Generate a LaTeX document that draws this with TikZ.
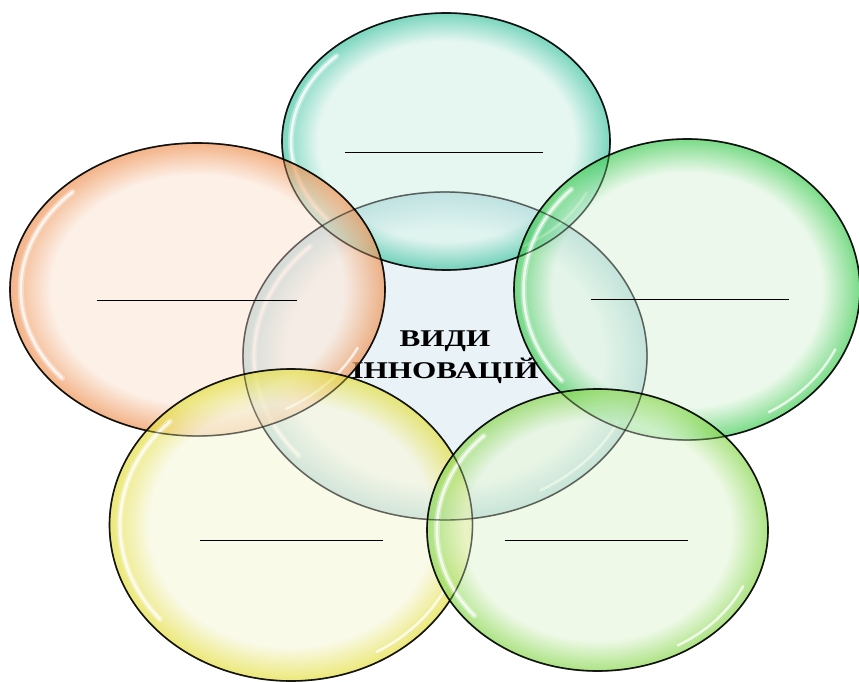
\documentclass[tikz,border=0pt]{standalone}
\usepackage{fontspec}
\setmainfont{Liberation Serif}
\usetikzlibrary{shapes.geometric}
\colorlet{bubin}{white}
\colorlet{bubout}{white}
\pgfdeclareradialshading[bubin,bubout]{bubble}{\pgfpoint{0bp}{0bp}}{color(0bp)=(bubin); color(19.5bp)=(bubin); color(25bp)=(bubout); color(50bp)=(bubout)}
\definecolor{cIn}{HTML}{E0EDF3}\definecolor{cOut}{HTML}{4A9FB5}
\definecolor{tIn}{HTML}{DBF4EC}\definecolor{tOut}{HTML}{3CC3A0}
\definecolor{lIn}{HTML}{FCEADD}\definecolor{lOut}{HTML}{EE9050}
\definecolor{rIn}{HTML}{E2F6E2}\definecolor{rOut}{HTML}{3CCB50}
\definecolor{blIn}{HTML}{F8F8E0}\definecolor{blOut}{HTML}{E3DE3A}
\definecolor{brIn}{HTML}{E8F7DE}\definecolor{brOut}{HTML}{86D64A}
\tikzset{
  bub/.style n args={4}{ellipse, draw=black, line width=1.6pt, inner sep=0pt,
    minimum width=#3, minimum height=#4, fill opacity=0.68, draw opacity=0.85,
    /utils/exec={\colorlet{bubin}{#1}\colorlet{bubout}{#2}}, shade, shading=bubble},
  rim/.style={draw=black, line width=1.4pt, draw opacity=0.45},
  blank/.style={draw=black, line width=1pt},
  hlsoft/.style={draw=white, line width=6pt, opacity=0.35, line cap=round},
  hl/.style={draw=white, line width=2.5pt, opacity=0.75, line cap=round}
}
\newcommand{\bubhl}[3]{%
  \path[hlsoft] (#1.center) ++(140:{0.945*#2} and {0.945*#3}) arc[start angle=140, end angle=225, x radius={0.945*#2}, y radius={0.945*#3}];
  \path[hl] (#1.center) ++(140:{0.945*#2} and {0.945*#3}) arc[start angle=140, end angle=225, x radius={0.945*#2}, y radius={0.945*#3}];
  \path[hl] (#1.center) ++(25:{0.945*#2} and {0.945*#3}) arc[start angle=25, end angle=60, x radius={0.945*#2}, y radius={0.945*#3}];
}
\begin{document}
\begin{tikzpicture}[x=1pt,y=-1pt]
\useasboundingbox (0,0) rectangle (859,682);
\fill[white] (0,0) rectangle (859,682);
\node[bub={cIn}{cOut}{404}{328}] (center) at (445,356) {};
\bubhl{center}{202}{164}
\node[font=\bfseries\fontsize{24}{32}\selectfont, align=center, text=black] (title) at (445,357) {\scalebox{1.3}[1]{ВИДИ}\\\scalebox{1.3}[1]{ІННОВАЦІЙ}};
\node[bub={tIn}{tOut}{328}{257}] (top) at (446,141.5) {};
\bubhl{top}{164}{128}
\node[bub={lIn}{lOut}{375}{293}] (left) at (197.5,289.5) {};
\bubhl{left}{187}{146}
\node[bub={rIn}{rOut}{346}{301}] (right) at (687,289.5) {};
\bubhl{right}{173}{150}
\node[bub={blIn}{blOut}{363}{312}] (bl) at (291,525) {};
\bubhl{bl}{181}{155}
\node[bub={brIn}{brOut}{341}{282}] (br) at (597.5,530) {};
\bubhl{br}{170}{141}
% outlines shown through the overlapping bubbles
\draw[rim] (center.center) ellipse [x radius=202, y radius=164];
\draw[rim] (top.center) ellipse [x radius=164, y radius=128.5];
\draw[rim] (left.center) ellipse [x radius=187.5, y radius=146.5];
\draw[rim] (right.center) ellipse [x radius=173, y radius=150.5];
\draw[rim] (bl.center) ellipse [x radius=181.5, y radius=156];
\draw[rim] (br.center) ellipse [x radius=170.5, y radius=141];
\draw[blank] (345,152) -- (543,152);
\draw[blank] (97,300) -- (297,300);
\draw[blank] (591,299) -- (789,299);
\draw[blank] (200,540) -- (383,540);
\draw[blank] (505,540) -- (688,540);
\end{tikzpicture}
\end{document}
